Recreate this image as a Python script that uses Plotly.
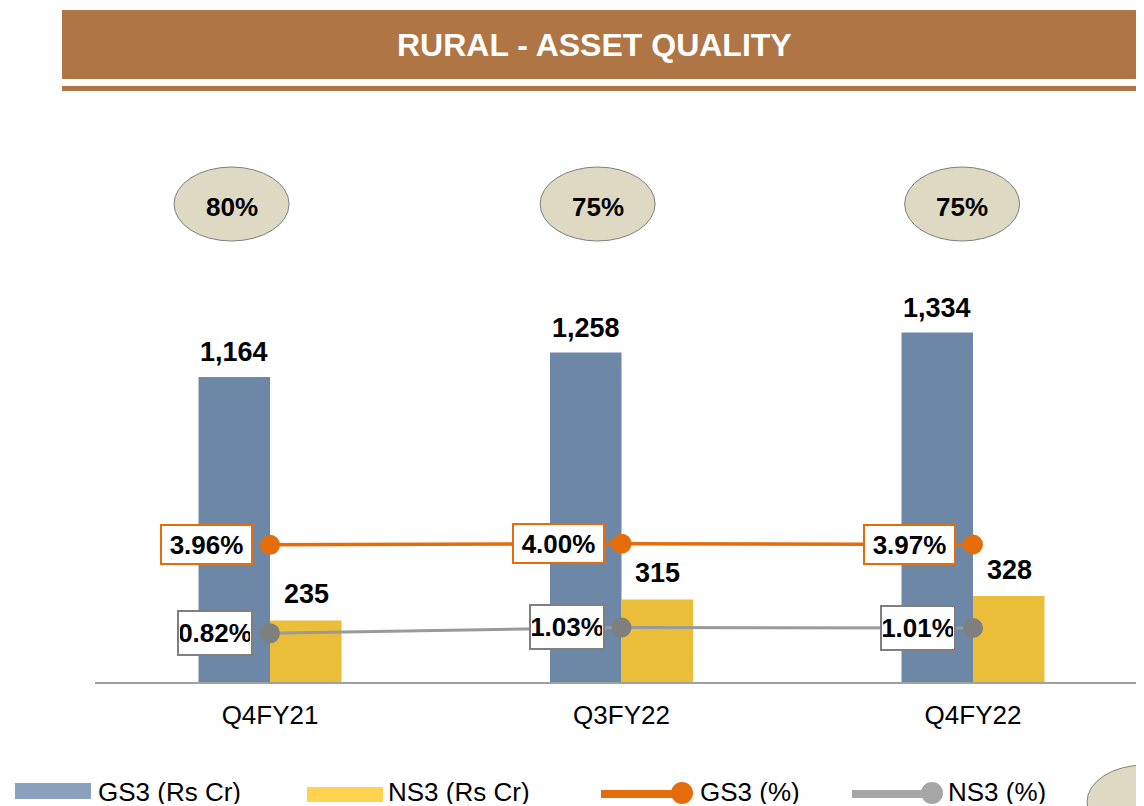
import plotly.graph_objects as go

# ---- data ----
categories = ["Q4FY21", "Q3FY22", "Q4FY22"]
gs3_cr = [1164, 1258, 1334]
ns3_cr = [235, 315, 328]
gs3_pct = [3.96, 4.00, 3.97]
ns3_pct = [0.82, 1.03, 1.01]
pcr_labels = ["80%", "75%", "75%"]
title_text = "RURAL - ASSET QUALITY"
legend_labels = ["GS3 (Rs Cr)", "NS3 (Rs Cr)", "GS3 (%)", "NS3 (%)"]

# ---- style ----
FONT = "Liberation Sans, Arial, sans-serif"
C_GS3 = "#6D88A7"
C_NS3 = "#EBBE3A"
C_GS3_L = "#E46C0A"
C_NS3_L = "#9A9A9A"
C_NS3_M = "#7F7F7F"
BROWN = "#B07545"
ELL_FILL = "#DDD9C3"

# page body margin offset (browser default 8px)
OFF = 8
W, H = 1144, 806            # window size (reference coordinates)
ML, MT, BOTTOM = 95, 100, 682
PLOT_W = W - ML
PLOT_H = BOTTOM - MT
FIG_W, FIG_H = W - OFF, H - OFF


def px(x):
    return (x - ML) / PLOT_W


def py(y):
    return (BOTTOM - y) / PLOT_H


fig = go.Figure()
fig.add_trace(go.Bar(x=categories, y=gs3_cr, name=legend_labels[0],
                     marker=dict(color=C_GS3, line=dict(width=0))))
fig.add_trace(go.Bar(x=categories, y=ns3_cr, name=legend_labels[1],
                     marker=dict(color=C_NS3, line=dict(width=0))))
fig.add_trace(go.Scatter(x=categories, y=gs3_pct, name=legend_labels[2], yaxis="y2",
                         mode="lines+markers",
                         line=dict(color=C_GS3_L, width=3.5),
                         marker=dict(color=C_GS3_L, size=20)))
fig.add_trace(go.Scatter(x=categories, y=ns3_pct, name=legend_labels[3], yaxis="y2",
                         mode="lines+markers",
                         line=dict(color=C_NS3_L, width=3),
                         marker=dict(color=C_NS3_M, size=20)))

annotations = []
shapes = []

# bar value labels
for c, v in zip(categories, gs3_cr):
    annotations.append(dict(x=c, y=v, xref="x", yref="y", text=f"<b>{v:,}</b>",
                            showarrow=False, xshift=-36, yshift=25,
                            xanchor="center", yanchor="middle",
                            font=dict(family=FONT, size=27, color="black")))
for c, v in zip(categories, ns3_cr):
    annotations.append(dict(x=c, y=v, xref="x", yref="y", text=f"<b>{v:,}</b>",
                            showarrow=False, xshift=36, yshift=26,
                            xanchor="center", yanchor="middle",
                            font=dict(family=FONT, size=27, color="black")))

# line value labels (boxed)
for c, v in zip(categories, gs3_pct):
    annotations.append(dict(x=c, y=v, xref="x", yref="y2", text=f"<b>{v:.2f}%</b>",
                            showarrow=False, xanchor="right", yanchor="middle", xshift=-17,
                            bgcolor="white", bordercolor=C_GS3_L, borderwidth=2,
                            borderpad=1, width=87, height=35,
                            font=dict(family=FONT, size=26, color="black")))
for c, v in zip(categories, ns3_pct):
    annotations.append(dict(x=c, y=v, xref="x", yref="y2", text=f"<b>{v:.2f}%</b>",
                            showarrow=False, xanchor="right", yanchor="middle", xshift=-17,
                            bgcolor="white", bordercolor=C_NS3_M, borderwidth=2,
                            borderpad=1, width=70, height=40,
                            font=dict(family=FONT, size=26, color="black")))

# PCR ellipses
ell_offsets = [-0.1095, -0.068, -0.031]
unit = 351.5
half_w = 57.5 / unit
for i, (lab, off) in enumerate(zip(pcr_labels, ell_offsets)):
    cx = i + off
    shapes.append(dict(type="circle", xref="x", yref="paper",
                       x0=cx - half_w, x1=cx + half_w, y0=py(241), y1=py(167),
                       fillcolor=ELL_FILL, line=dict(color="#7F7F7F", width=1),
                       layer="above"))
    annotations.append(dict(x=cx, y=py(207), xref="x", yref="paper",
                            text=f"<b>{lab}</b>", showarrow=False,
                            xanchor="center", yanchor="middle",
                            font=dict(family=FONT, size=26, color="black")))

# header banner
shapes.append(dict(type="rect", xref="paper", yref="paper",
                   x0=px(62), x1=px(W + 10), y0=py(79), y1=py(10),
                   fillcolor=BROWN, line=dict(width=0)))
shapes.append(dict(type="rect", xref="paper", yref="paper",
                   x0=px(62), x1=px(W + 10), y0=py(91), y1=py(86),
                   fillcolor=BROWN, line=dict(width=0)))
annotations.append(dict(x=px(594), y=py(45), xref="paper", yref="paper",
                        text=f"<b>{title_text}</b>", showarrow=False,
                        xanchor="center", yanchor="middle",
                        font=dict(family=FONT, size=32, color="white")))

# custom legend
LY = 793
shapes.append(dict(type="rect", xref="paper", yref="paper",
                   x0=px(15), x1=px(91), y0=py(799), y1=py(783),
                   fillcolor="#8AA0BE", line=dict(width=0)))
shapes.append(dict(type="rect", xref="paper", yref="paper",
                   x0=px(307), x1=px(383), y0=py(802), y1=py(787),
                   fillcolor="#FFD24F", line=dict(width=0)))
shapes.append(dict(type="line", xref="paper", yref="paper",
                   x0=px(601), x1=px(680), y0=py(LY + 1), y1=py(LY + 1),
                   line=dict(color=C_GS3_L, width=8)))
shapes.append(dict(type="circle", xref="paper", yref="paper",
                   x0=px(671), x1=px(693), y0=py(LY + 11), y1=py(LY - 11),
                   fillcolor=C_GS3_L, line=dict(width=0)))
shapes.append(dict(type="line", xref="paper", yref="paper",
                   x0=px(852), x1=px(930), y0=py(LY + 1), y1=py(LY + 1),
                   line=dict(color="#A6A6A6", width=8)))
shapes.append(dict(type="circle", xref="paper", yref="paper",
                   x0=px(921), x1=px(943), y0=py(LY + 11), y1=py(LY - 11),
                   fillcolor="#A6A6A6", line=dict(width=0)))
shapes.append(dict(type="circle", xref="paper", yref="paper",
                   x0=px(1087), x1=px(1202), y0=py(839), y1=py(765),
                   fillcolor=ELL_FILL, line=dict(color="#7F7F7F", width=1)))
for lab, lx in zip(legend_labels, [97, 387, 699, 947]):
    annotations.append(dict(x=px(lx), y=py(LY - 1), xref="paper", yref="paper",
                            text=lab, showarrow=False, xanchor="left", yanchor="middle",
                            height=24, borderpad=0,
                            font=dict(family=FONT, size=26, color="black")))

fig.update_layout(
    width=FIG_W, height=FIG_H,
    margin=dict(l=ML - OFF, r=0, t=MT - OFF, b=FIG_H - (MT - OFF) - PLOT_H, pad=0),
    paper_bgcolor="white", plot_bgcolor="white",
    barmode="group", bargap=0.593, bargroupgap=0,
    showlegend=False,
    xaxis=dict(type="category", range=[-0.498, 2.4865], showline=True,
               linecolor="#A0A0A0", linewidth=2, ticks="", showgrid=False,
               zeroline=False, ticklabelstandoff=9,
               tickfont=dict(family=FONT, size=26, color="black")),
    yaxis=dict(range=[0, 2222], visible=False, showgrid=False, zeroline=False),
    yaxis2=dict(range=[-0.904, 19.73], overlaying="y", side="right",
                visible=False, showgrid=False, zeroline=False),
    shapes=shapes,
    annotations=annotations,
)

fig.write_html("out.html")
